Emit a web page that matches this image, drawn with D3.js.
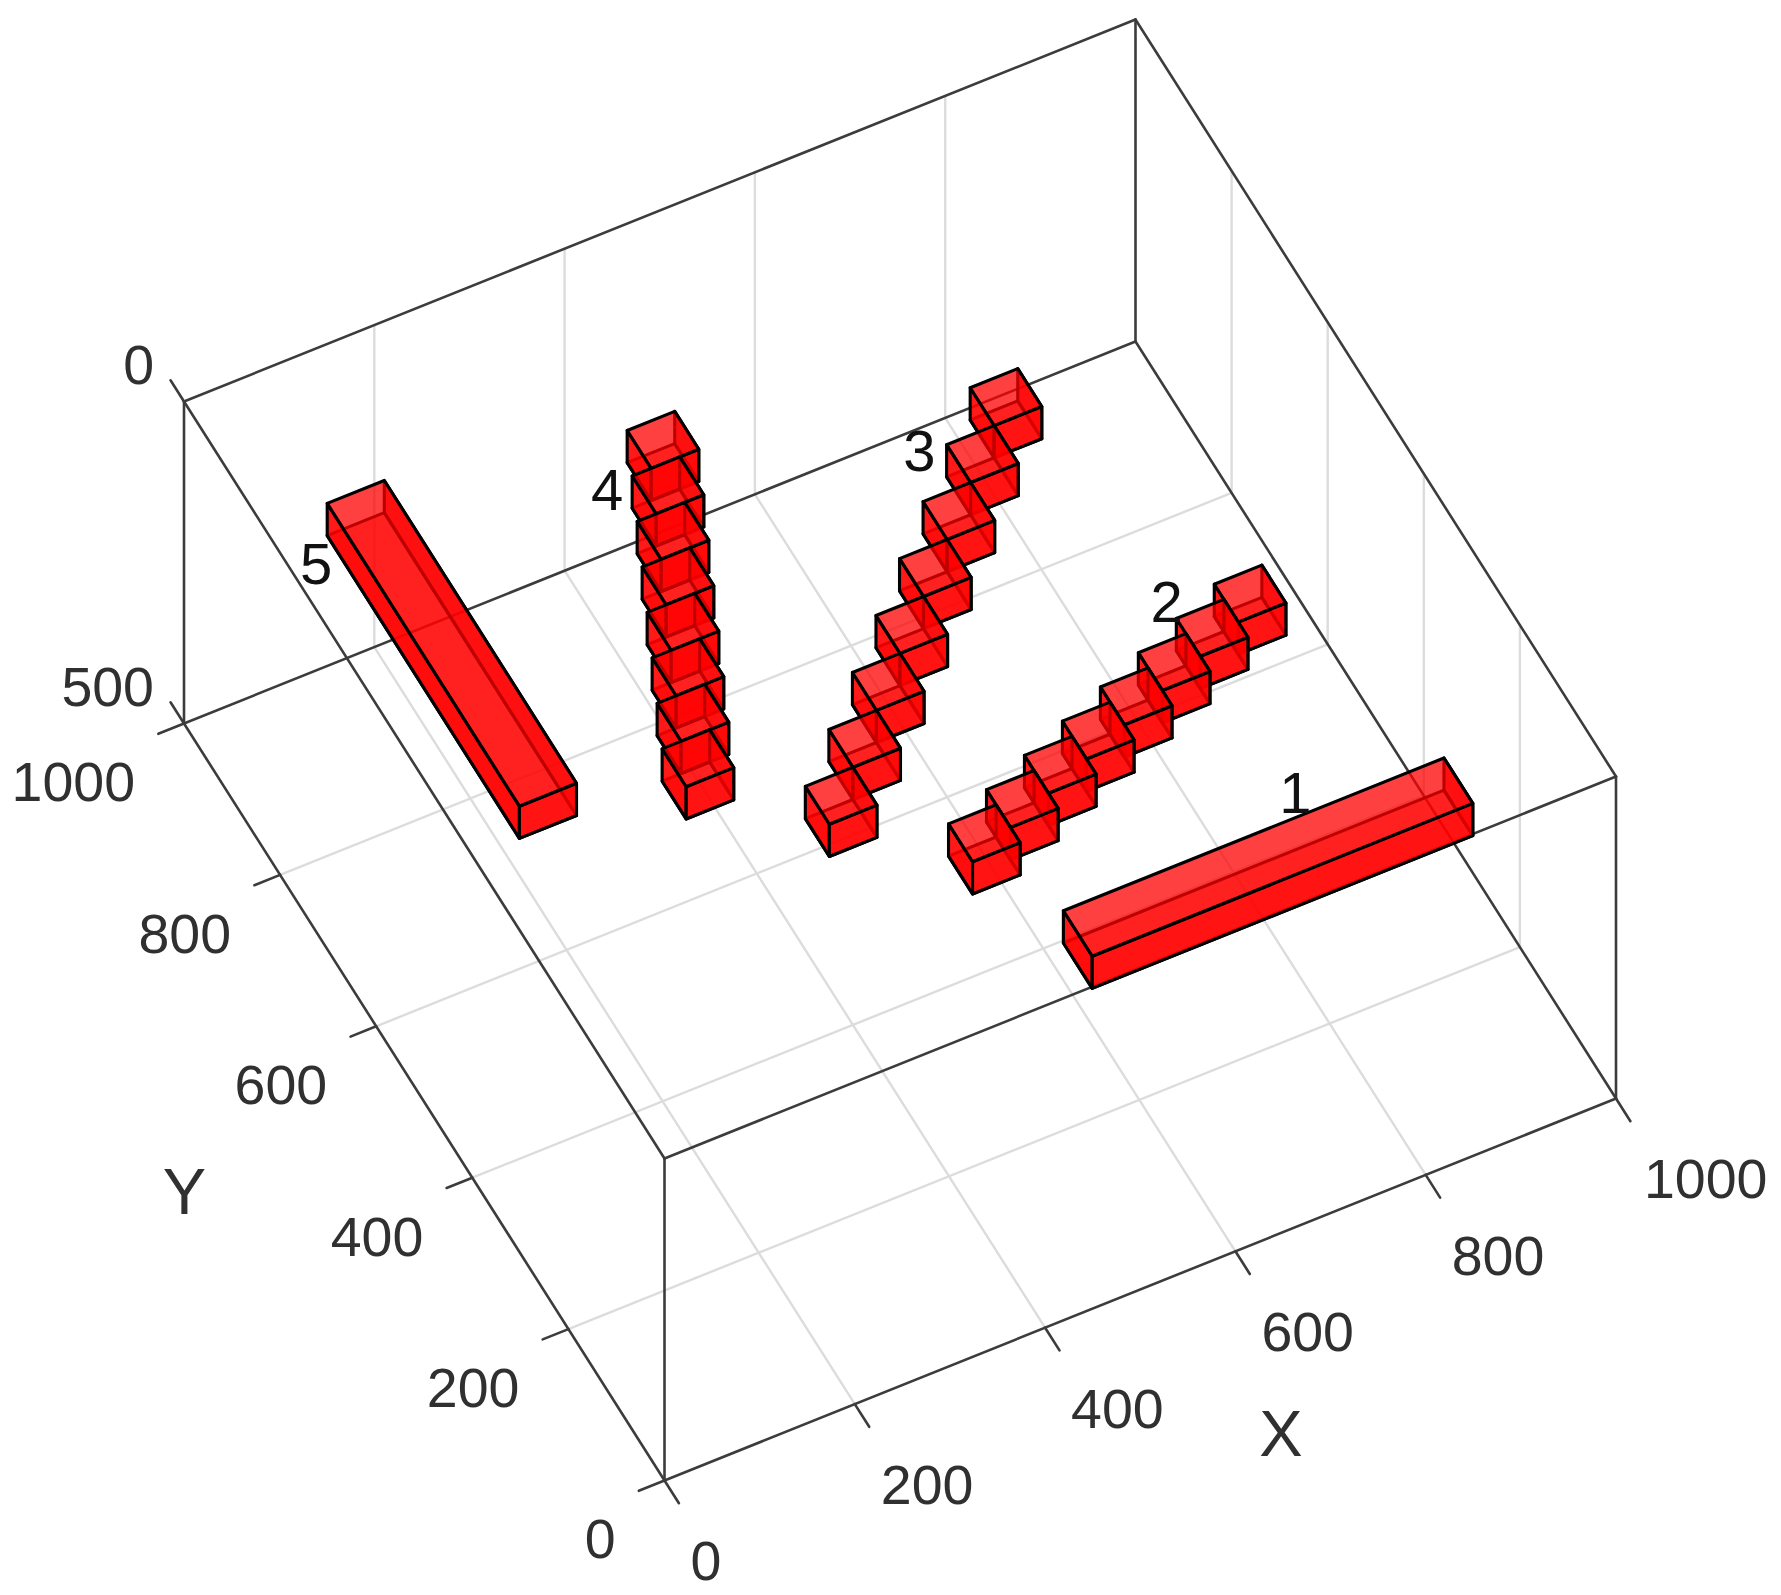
<!DOCTYPE html>
<html><head><meta charset="utf-8">
<script src="https://cdn.jsdelivr.net/npm/d3@7"></script>
<style>html,body{margin:0;padding:0;background:#fff}svg{display:block;filter:blur(0.55px)}</style>
</head><body><svg id="c" width="1781" height="1595"></svg>
<script>
// ---- data: [xStart, xEnd, yStart, yEnd] for every box of each labelled object
const series1 = [[500,900,100,160]];
const series2 = [[450,500,250,300],[500,550,270,320],[550,600,290,340],[600,650,310,360],[650,700,330,380],[700,750,350,400],[750,800,370,420],[800,850,390,440]];
const series3 = [[350,400,350,400],[400,450,400,450],[450,500,450,500],[500,550,500,550],[550,600,550,600],[600,650,600,650],[650,700,650,700],[700,750,700,750]];
const series4 = [[250,300,450,500],[270,320,500,550],[290,340,550,600],[310,360,600,650],[330,380,650,700],[350,400,700,750],[370,420,750,800],[390,440,800,850]];
const series5 = [[100,160,500,900]];
const seriesNames = ["1","2","3","4","5"];
const zRange = [100,150];
const xTicks = [0,200,400,600,800,1000];
const yTicks = [0,200,400,600,800,1000];
const zTicks = [0,500];
const allSeries = [series1,series2,series3,series4,series5];

// ---- orthographic projection built from linear scales
const xToSx = d3.scaleLinear().domain([0,1000]).range([0,951.5]);
const xToSy = d3.scaleLinear().domain([0,1000]).range([0,-382]);
const yToSx = d3.scaleLinear().domain([0,1000]).range([0,-480.5]);
const yToSy = d3.scaleLinear().domain([0,1000]).range([0,-757]);
const zToSy = d3.scaleLinear().domain([0,500]).range([0,322]);
const origin = [664.5,1158.5];
const P = (x,y,z)=>[origin[0]+xToSx(x)+yToSx(y), origin[1]+xToSy(x)+yToSy(y)+zToSy(z)];
const svg = d3.select("#c");
const seg = (g,a,b,cls)=>g.append("line").attr("x1",a[0]).attr("y1",a[1]).attr("x2",b[0]).attr("y2",b[1]).attr("class",cls)
   .attr("stroke",cls==="grid"?"#dcdcdc":"#3c3c3c").attr("stroke-width",cls==="grid"?2.4:2.6).attr("stroke-linecap","round");

// grid
const gGrid = svg.append("g");
xTicks.slice(1,-1).forEach(t=>{
  seg(gGrid,P(t,0,500),P(t,1000,500),"grid");
  seg(gGrid,P(t,1000,0),P(t,1000,500),"grid");
});
yTicks.slice(1,-1).forEach(t=>{
  seg(gGrid,P(0,t,500),P(1000,t,500),"grid");
  seg(gGrid,P(1000,t,0),P(1000,t,500),"grid");
});
// box frame
const gBox = svg.append("g");
const XS=[0,1000],YS=[0,1000],ZS=[0,500];
ZS.forEach(z=>{
  seg(gBox,P(0,0,z),P(1000,0,z),"edge");seg(gBox,P(1000,0,z),P(1000,1000,z),"edge");
  seg(gBox,P(1000,1000,z),P(0,1000,z),"edge");seg(gBox,P(0,1000,z),P(0,0,z),"edge");
});
XS.forEach(x=>YS.forEach(y=>seg(gBox,P(x,y,0),P(x,y,500),"edge")));
// ticks
const tickX=30, tickY=27, tickZ=28;
xTicks.forEach(t=>seg(gBox,P(t,0,500),P(t,-tickX,500),"edge"));
yTicks.forEach(t=>seg(gBox,P(0,t,500),P(-tickY,t,500),"edge"));
zTicks.forEach(t=>seg(gBox,P(0,1000,t),P(0,1000+tickZ,t),"edge"));

// bars
const faceStyles = [
  {c:[[0,1,1],[1,1,1],[1,0,1],[0,0,1]],a:0.5},   // far z face
  {c:[[1,0,0],[1,1,0],[1,1,1],[1,0,1]],a:0.75},  // far x face
  {c:[[0,0,0],[0,1,0],[0,1,1],[0,0,1]],a:0.9},   // near x face
  {c:[[0,0,0],[1,0,0],[1,0,1],[0,0,1]],a:0.85},  // near y face
  {c:[[0,0,0],[1,0,0],[1,1,0],[0,1,0]],a:0.75},  // near z face
];
const line = d3.line().curve(d3.curveLinearClosed);
const gBars = svg.append("g");
allSeries.forEach(s=>{
  const g = gBars.append("g");
  s.slice().reverse().forEach(b=>{
    const gb = g.append("g");
    faceStyles.forEach(f=>{
      const pts = f.c.map(([i,j,k])=>P(b[i],b[2+j],zRange[k]));
      gb.append("path").attr("d",line(pts)).attr("fill","#ff0000").attr("fill-opacity",f.a)
        .attr("stroke","#000").attr("stroke-width",3.1).attr("stroke-linejoin","round");
    });
  });
});

// text
const font = "'Liberation Sans',Arial,sans-serif";
const txt=(p,dx,dy,s,anchor,size,fill)=>svg.append("text").attr("x",p[0]+dx).attr("y",p[1]+dy).attr("dy",".358em")
  .attr("text-anchor",anchor).attr("font-family",font).attr("font-size",size).attr("fill",fill).text(s);
xTicks.forEach(t=>txt(P(t,0,500),t===1000?28:26,80,t,"start",55.5,"#303030"));
yTicks.forEach(t=>txt(P(0,t,500),-49,58,t,"end",55.5,"#303030"));
zTicks.forEach(t=>txt(P(0,1000,t),-30,-37,t,"end",55.5,"#303030"));
txt(P(1000,0,500),-335,334,"X","middle",65,"#303030");
txt(P(0,0,500),-480,-290,"Y","middle",65,"#303030");
// series labels
const labelOffset = [[232,-119],[218,-223],[114,-336],[-55,-260],[-11,60]];
allSeries.forEach((s,i)=>{
  const b=s[0]; const p=P(b[0],b[3],zRange[0]);
  txt(p,labelOffset[i][0],labelOffset[i][1],seriesNames[i],"middle",58,"#111");
});
</script></body></html>
